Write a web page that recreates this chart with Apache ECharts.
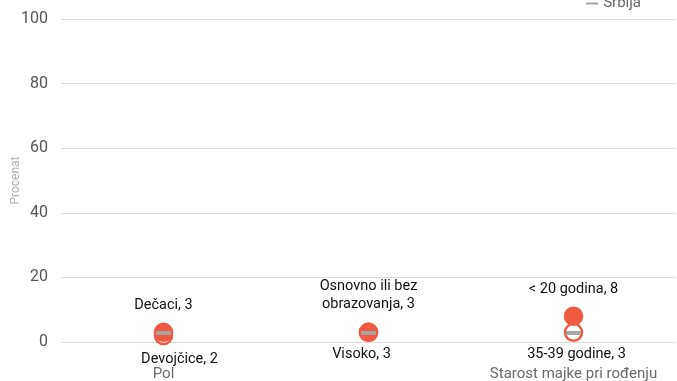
<!DOCTYPE html>
<html><head><meta charset="utf-8">
<script src="https://cdn.jsdelivr.net/npm/echarts@6/dist/echarts.min.js"></script>
<style>html,body{margin:0;padding:0;background:#fff}#c{width:677px;height:381px}</style>
</head><body><div id="c"></div>
<script>
const categories = ['Pol', 'Obrazovanje majke', 'Starost majke pri rođenju'];
const yTicks = [0, 20, 40, 60, 80, 100];
const maxValues = [3, 3, 8];
const maxLabels = ['Dečaci, 3', 'Osnovno ili bez\nobrazovanja, 3', '< 20 godina, 8'];
const minValues = [2, 3, 3];
const minLabels = ['Devojčice, 2', 'Visoko, 3', '35-39 godine, 3'];
const srbija = [2.8, 2.8, 2.8];

const RED = '#f05a40';
const font = 'Roboto, sans-serif';
const maxOffsets = [[0, 1], [0, 0], [0, 1]];
const minOffsets = [[16, 2], [-7, 0], [3, 0]];

const chart = echarts.init(document.getElementById('c'));
chart.setOption({
  animation: false,
  textStyle: { fontFamily: font },
  grid: { left: 61, right: 1, top: 19, bottom: 39, outerBoundsMode: 'none', containLabel: false },
  legend: {
    top: -9, right: 31, itemWidth: 12, itemHeight: 2, itemGap: 2,
    textStyle: { color: '#666', fontSize: 15, fontFamily: font },
    data: [{ name: 'Srbija', icon: 'rect', itemStyle: { color: '#a6a6a6' } }]
  },
  xAxis: {
    type: 'category', data: categories,
    axisLine: { show: false }, axisTick: { show: false },
    axisLabel: { color: '#6a6a6a', fontSize: 15, margin: 25 }
  },
  yAxis: {
    type: 'value', min: 0, max: 100, interval: 20,
    name: 'Procenat', nameLocation: 'middle', nameGap: 39, nameMoveOverlap: false,
    nameTextStyle: { color: '#b0b0b0', fontSize: 12 },
    axisLine: { show: false }, axisTick: { show: false },
    axisLabel: { color: '#555', fontSize: 16, margin: 13,
      formatter: v => yTicks.includes(v) ? String(v) : '' },
    splitLine: { lineStyle: { color: '#dcdcdc', width: 1 } }
  },
  series: [
    {
      name: 'min', type: 'scatter', symbol: 'circle', symbolSize: 17, z: 2,
      itemStyle: { color: '#fff', borderColor: RED, borderWidth: 2.5, opacity: 1 },
      data: minValues.map((v, i) => ({
        value: v,
        label: { show: true, position: 'bottom', distance: 5, offset: minOffsets[i],
          formatter: minLabels[i], color: '#111', fontSize: 14.5 }
      }))
    },
    {
      name: 'max', type: 'scatter', symbol: 'circle', symbolSize: 19.5, z: 3,
      itemStyle: { color: RED, opacity: 1 },
      data: maxValues.map((v, i) => ({
        value: v,
        label: { show: true, position: 'top', distance: 9, offset: maxOffsets[i],
          formatter: maxLabels[i], color: '#111', fontSize: 14.5, lineHeight: 18, align: 'center' }
      }))
    },
    {
      name: 'Srbija', type: 'scatter', symbol: 'rect', symbolSize: [15, 4], z: 4,
      itemStyle: { color: '#a6a6a6', opacity: 1 },
      data: srbija
    }
  ]
});
</script></body></html>
